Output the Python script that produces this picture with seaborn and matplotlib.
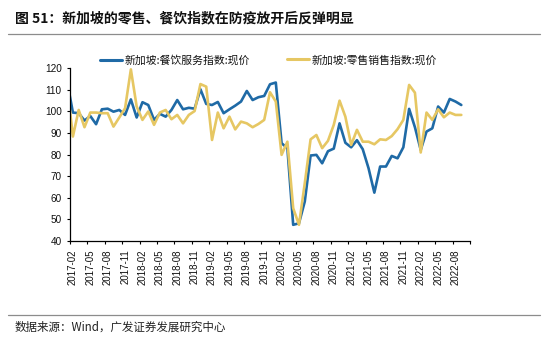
import numpy as np
import pandas as pd
import matplotlib
matplotlib.use("Agg")
import matplotlib.pyplot as plt
from matplotlib.lines import Line2D
import seaborn as sns

# ---------------- data ----------------
months = pd.period_range("2017-01", "2022-09", freq="M").strftime("%Y-%m").tolist()

series_names = ["新加坡:餐饮服务指数:现价", "新加坡:零售销售指数:现价"]

food_service = [114, 99.5, 99.2, 95.8, 97.9, 94.1, 101, 101.3, 99.9, 100.7, 98.4, 105.6,
                97.2, 104.3, 103, 96.1, 98.9, 97.6, 100.7, 105.3, 101, 101.7, 101.3, 110.3,
                103.5, 103, 104.4, 99.2, 101, 102.7, 104.6, 109.5, 105.3, 106.6, 107.2, 112.6,
                113.4, 85.3, 83, 47.5, 48.2, 58.3, 79.6, 79.9, 76, 81.6, 82.8, 94.5,
                85.5, 83.4, 86.7, 82.5, 73.7, 62.4, 74.5, 74.5, 79.4, 78.3, 83.4, 101.2,
                92.7, 82.2, 90.7, 92.2, 102.3, 99.5, 105.8, 104.6, 103]

retail_sales = [112, 88.4, 100.7, 92.7, 99.5, 99.5, 99.2, 99.2, 93, 97.2, 101.5, 119.5,
                102.3, 96.1, 100, 93.8, 99.5, 100.7, 96.4, 98.4, 94.5, 98.4, 100.2, 112.7,
                111.5, 86.8, 99.5, 92.2, 97.6, 91.7, 95.3, 94.5, 92.7, 94.2, 96.1, 108.9,
                104.6, 79.9, 86, 55.2, 47.5, 66.8, 87.1, 89.1, 83, 86.4, 93.8, 105,
                97.6, 84.5, 91.5, 86, 86, 84.8, 87.1, 86.8, 88.6, 91.8, 96.1, 112.3,
                108.7, 81, 99.5, 96.1, 101, 97.3, 99.5, 98.4, 98.4]

y_ticks = [40, 50, 60, 70, 80, 90, 100, 110, 120]
x_label_months = months[1:68:3]   # 2017-02 ... 2022-08

title_text = "图 51：新加坡的零售、餐饮指数在防疫放开后反弹明显"
source_text = "数据来源：Wind，广发证券发展研究中心"

colors = {series_names[0]: "#1f6aa6", series_names[1]: "#e6c763"}

# ---------------- frame ----------------
n = len(months)
df = pd.DataFrame({
    "pos": list(range(n)) * 2,
    "month": months * 2,
    "value": food_service + retail_sales,
    "series": [series_names[0]] * n + [series_names[1]] * n,
})

sns.set_style("ticks")
plt.rcParams["font.family"] = ["Liberation Sans", "Noto Sans CJK SC", "DejaVu Sans"]
plt.rcParams["axes.unicode_minus"] = False

W, H = 550, 339
fig = plt.figure(figsize=(W / 100, H / 100), dpi=100)
ax = fig.add_axes([70 / W, (H - 241) / H, 400 / W, (241 - 68.3) / H])

sns.lineplot(data=df, x="pos", y="value", hue="series", palette=colors,
             hue_order=series_names, linewidth=1.9, legend=False, ax=ax, sort=False)

ax.set_xlim(0.5, 69.5)
ax.set_ylim(40, 120)
ax.set_yticks(y_ticks)
ax.set_xticks([months.index(m) for m in x_label_months])
ax.set_xticklabels(x_label_months)
ax.set_xticks(np.arange(0.5, 70, 3), minor=True)
ax.set_xlabel("")
ax.set_ylabel("")

ax.tick_params(axis="x", which="major", length=0, pad=6, labelsize=7, rotation=90)
ax.tick_params(axis="x", which="minor", length=2.5, width=0.8, direction="out", color="black")
ax.tick_params(axis="y", length=2.5, width=0.8, pad=3.5, labelsize=7.2, color="black")
for lab in ax.get_xticklabels() + ax.get_yticklabels():
    lab.set_color("#111111")

for s in ["top", "right"]:
    ax.spines[s].set_visible(False)
for s in ["left", "bottom"]:
    ax.spines[s].set_color("black")
    ax.spines[s].set_linewidth(0.9)

# ---------------- legends ----------------
cjk = "Noto Sans CJK SC"
leg_prop = {"family": cjk, "size": 7.8}
for name, xpx in zip(series_names, [100, 287]):
    h = Line2D([], [], color=colors[name], lw=2.2, label=name)
    leg = fig.legend(handles=[h], loc="center left",
                     bbox_to_anchor=(xpx / W, 1 - 60 / H), frameon=False,
                     borderpad=0, borderaxespad=0, handlelength=2.0,
                     handletextpad=0.3, prop=leg_prop)
    for t in leg.get_texts():
        t.set_color("#111111")

# ---------------- title / source ----------------
fig.text(15 / W, 1 - 18 / H, title_text, family=cjk, weight="bold", size=10,
         va="center", ha="left", color="#111111")
fig.add_artist(Line2D([8 / W, 540 / W], [1 - 34 / H] * 2, color="#8c8c8c", lw=0.9))
fig.add_artist(Line2D([8 / W, 540 / W], [1 - 315 / H] * 2, color="#8c8c8c", lw=0.9))
fig.text(15 / W, 1 - 327 / H, source_text, family=cjk, size=8.3,
         va="center", ha="left", color="#222222")

fig.savefig("out.png", dpi=100)
